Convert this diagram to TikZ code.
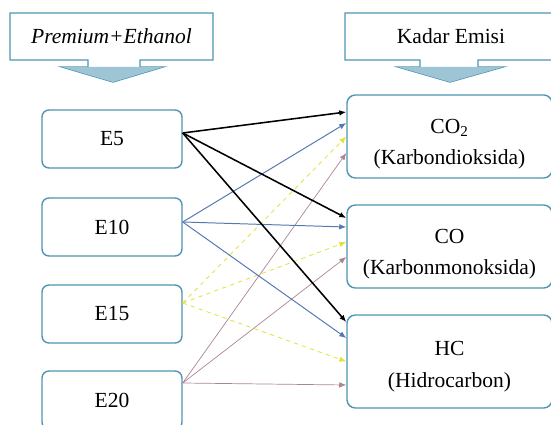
\documentclass[tikz,border=0pt]{standalone}
\usepackage{fontspec}
\setmainfont{Liberation Serif}
\usetikzlibrary{arrows.meta,calc}

\definecolor{boxblue}{RGB}{78,150,178}
\definecolor{arrblue}{RGB}{88,118,178}
\definecolor{arryellow}{RGB}{226,226,60}
\definecolor{arrmauve}{RGB}{172,132,152}

\tikzset{
  ebox/.style={draw=boxblue, line width=1pt, rounded corners=5pt, fill=white,
    minimum width=3.5cm, minimum height=1.45cm, font=\fontsize{15.3}{18}\selectfont},
  gasbox/.style={draw=boxblue, line width=1pt, rounded corners=6pt, fill=white,
    minimum width=5.125cm},
  gastxt/.style={align=center, font=\fontsize{15.3}{22.5}\selectfont},
  hdr/.style={draw=boxblue, line width=1pt, fill=white},
  con/.style={-{Latex[length=5pt,width=4pt]}},
}

\begin{document}
\begin{tikzpicture}[x=0.025cm,y=0.025cm]
  \useasboundingbox (0,0) rectangle (551,-425);
  \clip (0,0) rectangle (551,-425);

  % header callouts
  \draw[hdr] (10,-13) -- (213,-13) -- (213,-60) -- (140,-60) -- (140,-67)
    -- (163,-67) -- (113,-82) -- (62,-67) -- (88,-67) -- (88,-60) -- (10,-60) -- cycle;
  \fill[boxblue!55] (62,-67) -- (163,-67) -- (113,-82) -- cycle;
  \node[font=\fontsize{15.3}{18}\selectfont\itshape] (hdrL) at (111.5,-36.5) {Premium+Ethanol};

  \draw[hdr] (345,-13) -- (570,-13) -- (570,-60) -- (478,-60) -- (478,-67)
    -- (503,-67) -- (450,-82) -- (398,-67) -- (420,-67) -- (420,-60) -- (345,-60) -- cycle;
  \fill[boxblue!55] (398,-67) -- (503,-67) -- (450,-82) -- cycle;
  \node[font=\fontsize{15.3}{18}\selectfont] (hdrR) at (451,-36.5) {Kadar Emisi};

  % fuel blends
  \foreach \lbl/\yy [count=\i] in {E5/139, E10/227, E15/314, E20/400}
    \node[ebox] (e\i) at (112,-\yy) {\lbl};

  % emissions
  \node[gasbox, minimum height=2.075cm] (co2) at (449.5,-136.5) {};
  \node[gasbox, minimum height=2.075cm] (co) at (449.5,-246.5) {};
  \node[gasbox, minimum height=2.325cm] (hc) at (449.5,-361.5) {};
  \node[gastxt] (co2txt) at ([yshift=-5.5pt]co2.center) {CO\textsubscript{2}\\(Karbondioksida)};
  \node[gastxt] (cotxt) at ([yshift=-5.5pt]co.center) {CO\\(Karbonmonoksida)};
  \node[gastxt] (hctxt) at ([yshift=-3.5pt]hc.center) {HC\\(Hidrocarbon)};

  % connections
  \foreach \g/\dy in {co2/-16.5, co/-10.5, hc/-23.5}
    \draw[con, arrmauve, line width=0.5pt] ($(e4.east)+(0,17)$) -- ($(\g.west)+(0,\dy)$);
  \foreach \g/\dy in {co2/0, co/4.5, hc/0}
    \draw[con, arryellow, line width=0.6pt, dashed] ($(e3.east)+(0,11)$) -- ($(\g.west)+(0,\dy)$);
  \foreach \g/\dy in {co2/13.5, co/19.5, hc/23.5}
    \draw[con, arrblue, line width=0.7pt] ($(e2.east)+(0,5)$) -- ($(\g.west)+(0,\dy)$);
  \foreach \g/\dy in {co2/24.5, co/28.5, hc/39.5}
    \draw[con, black, line width=1.1pt] ($(e1.east)+(0,6)$) -- ($(\g.west)+(0,\dy)$);
\end{tikzpicture}
\end{document}
